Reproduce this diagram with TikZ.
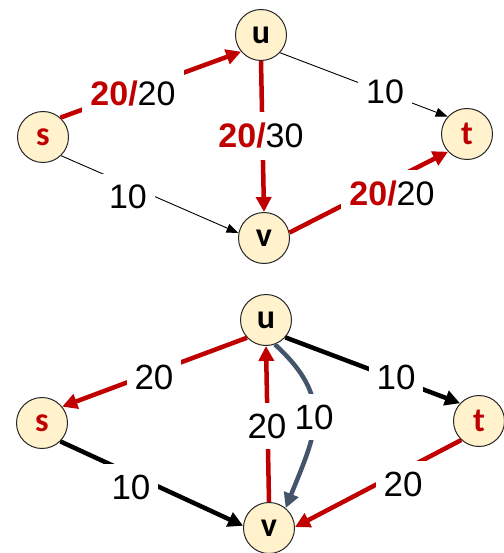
\documentclass[tikz,border=0pt]{standalone}
\usepackage{fontspec}
\setmainfont{Liberation Sans}
\newfontfamily\nodefont{Carlito}
\usetikzlibrary{arrows.meta}
\definecolor{fred}{HTML}{C00000}
\definecolor{fgray}{HTML}{44546A}
\definecolor{fnode}{HTML}{FFF2CC}
\begin{document}
\begin{tikzpicture}[x=1pt,y=-1pt,
  vert/.style={circle, draw=black!85, line width=1pt, fill=fnode, minimum size=51pt, inner sep=0pt,
    font=\nodefont\bfseries\fontsize{34}{34}\selectfont},
  lbl/.style={fill=white, inner xsep=8pt, inner ysep=11pt, font=\fontsize{34}{34}\selectfont},
  lblb/.style={lbl, font=\fontsize{35}{35}\selectfont},
  thinarrow/.style={draw=black, line width=0.9pt, -{Triangle[length=12pt,width=9pt]}},
  fat/.style={line width=4.5pt, -{Triangle[length=15pt,width=15pt]}}]
\useasboundingbox (0,0) rectangle (503,553);
% top graph
\node[vert] (u1) at (261,35) {u};
\node[vert, text=fred] (s1) at (43,137) {s};
\node[vert, text=fred] (t1) at (467,134) {t};
\node[vert] (v1) at (264,238) {v};
\draw[fat, fred] (s1.48) -- (u1.220);
\draw[fat, fred] (u1.south) -- (v1.north);
\draw[fat, fred] (v1.12) -- (t1.223);
\draw[thinarrow] (u1.-43) -- (t1.138);
\draw[thinarrow] (s1.-46) -- (v1.169);
\node[lbl] (l1) at (133,94) {\textcolor{fred}{\textbf{20/}}20};
\node[lbl] (l2) at (261,136) {\textcolor{fred}{\textbf{20/}}30};
\node[lbl] (l3) at (385,92) {10};
\node[lbl] (l4) at (128,197) {10};
\node[lbl] (l5) at (392,194) {\textcolor{fred}{\textbf{20/}}20};
% bottom graph
\node[vert] (u2) at (266,320) {u};
\node[vert, text=fred] (s2) at (42,423) {s};
\node[vert, text=fred] (t2) at (479,421) {t};
\node[vert] (v2) at (269,528) {v};
\draw[fat, fred] (u2.223) -- (s2.39);
\draw[fat, black] (u2.-42) -- (t2.137);
\draw[fat, black] (s2.-45) -- (v2.175);
\draw[fat, fred] (t2.227) -- (v2.2);
\draw[fat, fred] (v2.north) -- (u2.south);
\draw[fat, fgray] (u2.-70) .. controls +(60,55) and +(30,-75) .. (v2.50);
\node[lblb] (m1) at (154,377) {20};
\node[lblb] (m2) at (396,377) {10};
\node[lblb] (m3) at (131,487) {10};
\node[lblb] (m4) at (403,484) {20};
\node[lblb, inner xsep=6pt] (m6) at (314,417) {10};
\node[lblb, inner xsep=6pt] (m5) at (267,426) {20};
\end{tikzpicture}
\end{document}
